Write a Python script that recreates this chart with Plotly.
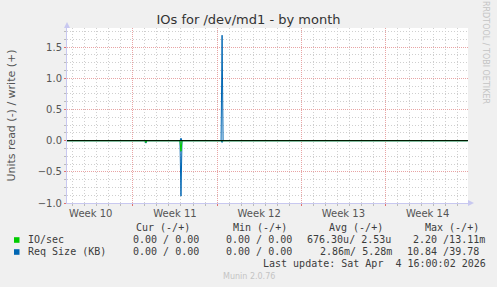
import plotly.graph_objects as go
import pandas as pd

# ---------------- data ----------------
sample_times = [
    "2026-03-03 12:00", "2026-03-10 00:00", "2026-03-10 02:00", "2026-03-10 04:00",
    "2026-03-12 22:00", "2026-03-13 00:00", "2026-03-13 02:00",
    "2026-03-16 08:00", "2026-03-16 10:00", "2026-03-16 12:00", "2026-04-05 20:00",
]
req_read = [0, 0, 0.04, 0, 0, 0.89, 0, 0, 0.03, 0, 0]     # drawn negative
req_write = [0, 0, 0, 0, 0, 0.04, 0, 0, 1.69, 0, 0]
io_read = [0, 0, 0.03, 0, 0, 0.17, 0, 0, 0, 0, 0]          # drawn negative
io_write = [0, 0, 0, 0, 0, 0, 0, 0, 0, 0, 0]

week_ticks = ["2026-03-05 12:00", "2026-03-12 12:00", "2026-03-19 12:00",
              "2026-03-26 12:00", "2026-04-02 12:00"]
week_labels = ["Week 10", "Week 11", "Week 12", "Week 13", "Week 14"]
x_range = ["2026-03-03 12:36", "2026-04-05 20:36"]
y_range = [-1.0, 1.806]

legend_names = ["IO/sec", "Req Size (KB)"]
legend_colors = ["#00cc00", "#0066b3"]
col_headers = ["Cur (-/+)", "Min (-/+)", "Avg (-/+)", "Max (-/+)"]
io_stats = ["0.00 / 0.00", "0.00 / 0.00", "676.30u/ 2.53u", "2.20 /13.11m"]
req_stats = ["0.00 / 0.00", "0.00 / 0.00", "2.86m/ 5.28m", "10.84 /39.78"]
last_update = "Last update: Sat Apr\u00a0\u00a04 16:00:02 2026"

# grid positions: week boundaries (Mondays) and the remaining days
days = pd.date_range("2026-03-04", "2026-04-05", freq="D")
week_grid = [d.strftime("%Y-%m-%d") for d in days if d.weekday() == 0]
day_grid = [d.strftime("%Y-%m-%d") for d in days if d.weekday() != 0]

# ---------------- layout helpers ----------------
W, H = 497, 287
L, R, T, B = 67, 468, 28, 203
def px(x):
    return (x - L) / (R - L)
def py(y):
    return (B - y) / (B - T)

fig = go.Figure()
neg = lambda v: [-a for a in v]
fig.add_trace(go.Scatter(x=sample_times, y=neg(req_read), mode="lines",
                         line=dict(color="#0066b3", width=1)))
fig.add_trace(go.Scatter(x=sample_times, y=req_write, mode="lines",
                         line=dict(color="#0066b3", width=1)))
fig.add_trace(go.Scatter(x=sample_times, y=neg(io_read), mode="lines",
                         line=dict(color="#00cc00", width=1)))
fig.add_trace(go.Scatter(x=sample_times, y=io_write, mode="lines",
                         line=dict(color="#00cc00", width=1)))

minor_grid = "#cfcfcf"
major_grid = "#e8a4a4"
axis_col = "#c8c8f0"
tick_font = dict(family="DejaVu Sans", size=10, color="#555555")
dash = "1px,2px"

fig.update_layout(
    width=W, height=H,
    margin=dict(l=L, r=W - R, t=T, b=H - B, pad=0),
    paper_bgcolor="#f0f0f0", plot_bgcolor="#ffffff",
    showlegend=False,
    xaxis=dict(
        type="date", range=x_range, tickmode="array", tickvals=week_grid,
        showticklabels=False,
        showgrid=True, gridcolor=major_grid, griddash="1px,1px", gridwidth=1,
        ticks="outside", ticklen=2, tickcolor="#e07070",
        showline=True, linecolor=axis_col, linewidth=1, zeroline=False,
        minor=dict(tickmode="array", tickvals=day_grid, showgrid=True,
                   gridcolor=minor_grid, griddash=dash, gridwidth=1,
                   ticks="outside", ticklen=2, tickcolor="#bbbbbb"),
    ),
    xaxis2=dict(
        type="date", overlaying="x", anchor="y", range=x_range, side="bottom",
        tickmode="array", tickvals=week_ticks, ticktext=week_labels,
        showgrid=False, zeroline=False, showline=False, ticks="",
        tickfont=tick_font, ticklabelstandoff=3,
    ),
    yaxis=dict(
        range=y_range, tickmode="linear", tick0=0, dtick=0.5, tickformat=".1f",
        showgrid=True, gridcolor=major_grid, griddash="1px,1px", gridwidth=1,
        ticks="outside", ticklen=2, tickcolor="#e07070",
        showline=True, linecolor=axis_col, linewidth=1, zeroline=False,
        tickfont=tick_font,
        title=dict(text="Units read (-) / write (+)",
                   font=dict(family="DejaVu Sans", size=11, color="#555555"),
                   standoff=19),
        minor=dict(dtick=0.125, showgrid=True, gridcolor=minor_grid,
                   griddash=dash, gridwidth=1, ticks="outside",
                   ticklen=2, tickcolor="#bbbbbb"),
    ),
    title=dict(text="IOs for /dev/md1 - by month", x=0.5, xanchor="center",
               y=1 - 19.5 / H, yanchor="middle",
               font=dict(family="DejaVu Sans", size=13, color="#333333")),
)
# invisible carrier so the label axis is rendered
fig.add_trace(go.Scatter(x=x_range, y=[None, None], xaxis="x2", yaxis="y",
                         mode="lines", hoverinfo="skip"))

shapes = [
    dict(type="line", xref="paper", yref="y", x0=0, x1=1, y0=0, y1=0,
         line=dict(color="#000000", width=1), layer="above"),
    dict(type="path", xref="paper", yref="paper",
         path=f"M {px(64)} {py(28)} L {px(70)} {py(28)} L {px(67)} {py(22)} Z",
         fillcolor=axis_col, line=dict(width=0)),
    dict(type="path", xref="paper", yref="paper",
         path=f"M {px(468)} {py(200)} L {px(468)} {py(206)} L {px(474)} {py(203)} Z",
         fillcolor=axis_col, line=dict(width=0)),
]
for i, c in enumerate(legend_colors):
    yc = 240 + 12 * i
    shapes.append(dict(type="rect", xref="paper", yref="paper",
                       x0=px(14), x1=px(19.5), y0=py(yc - 2.8), y1=py(yc + 2.8),
                       fillcolor=c, line=dict(width=0)))
fig.update_layout(shapes=shapes)

mono = dict(family="DejaVu Sans Mono", size=10, color="#3c3c3c")
ann = []
def text(x, y, s, font=mono, anchor="left", **kw):
    ann.append(dict(x=px(x), y=py(y), xref="paper", yref="paper", text=s,
                    showarrow=False, xanchor=anchor, yanchor="middle", font=font, **kw))

header_x = [134.3, 230.7, 327.0, 422.7]
for hx, h in zip(header_x, col_headers):
    text(hx, 227.5, h)
text(26.3, 239.8, legend_names[0])
text(26.3, 251.8, legend_names[1])
io_x = [130.7, 224.0, 305.3, 410.7]
req_x = [130.7, 224.0, 317.7, 405.0]
for x, s in zip(io_x, io_stats):
    text(x, 239.8, s.replace(" ", "\u00a0"))
for x, s in zip(req_x, req_stats):
    text(x, 251.8, s.replace(" ", "\u00a0"))
text(261.0, 263.5, last_update)
text(248.5, 276.5, "Munin 2.0.76",
     font=dict(family="DejaVu Sans", size=8, color="#c4c4c4"), anchor="center")
ann.append(dict(x=px(486), y=py(52), xref="paper", yref="paper",
                text="RRDTOOL / TOBI OETIKER", showarrow=False, textangle=90,
                xanchor="center", yanchor="middle",
                font=dict(family="DejaVu Sans", size=8, color="#c4c4c4")))
fig.update_layout(annotations=ann)

fig.write_html("out.html")
